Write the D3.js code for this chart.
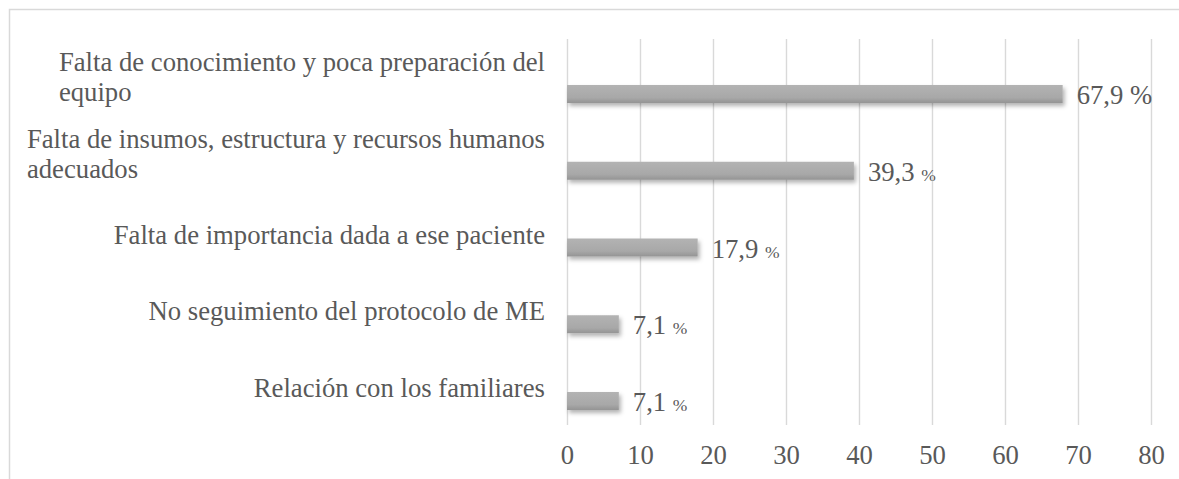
<!DOCTYPE html>
<html>
<head>
<meta charset="utf-8">
<script src="https://cdn.jsdelivr.net/npm/d3@7"></script>
<style>
  html, body { margin: 0; padding: 0; background: #ffffff; }
  svg { display: block; }
</style>
</head>
<body>
<svg id="chart" width="1179" height="479"></svg>
<script>
// ---- data ----
const categories = [
  ["Falta de conocimiento y poca preparación del", "equipo"],
  ["Falta de insumos, estructura y recursos humanos", "adecuados"],
  ["Falta de importancia dada a ese paciente"],
  ["No seguimiento del protocolo de ME"],
  ["Relación con los familiares"]
];
const values = [67.9, 39.3, 17.9, 7.1, 7.1];
const valueLabels = ["67,9", "39,3", "17,9", "7,1", "7,1"];
const tickValues = [0, 10, 20, 30, 40, 50, 60, 70, 80];

// ---- layout ----
const W = 1179, H = 479;
const plotLeft = 567, plotRight = 1151;
const gridTop = 39, gridBottom = 425;
const textColor = "#595959";
const fontFam = "'Liberation Serif', 'Times New Roman', serif";
const fs = 26.7;

const svg = d3.select("#chart");

const x = d3.scaleLinear().domain([0, 80]).range([plotLeft, plotRight]);
const keys = categories.map((c, i) => i);
const y = d3.scalePoint().domain(keys).range([94, 401]);
const barH = 18;

// defs
const defs = svg.append("defs");
const grad = defs.append("linearGradient").attr("id", "barGrad")
  .attr("x1", 0).attr("y1", 0).attr("x2", 0).attr("y2", 1);
grad.append("stop").attr("offset", "0%").attr("stop-color", "#b3b3b3");
grad.append("stop").attr("offset", "70%").attr("stop-color", "#a8a8a8");
grad.append("stop").attr("offset", "100%").attr("stop-color", "#949494");
const filt = defs.append("filter").attr("id", "shadow")
  .attr("x", "-10%").attr("y", "-50%").attr("width", "130%").attr("height", "250%");
filt.append("feDropShadow").attr("dx", 2).attr("dy", 3).attr("stdDeviation", 2)
  .attr("flood-color", "#000").attr("flood-opacity", 0.3);

// chart border (top & left visible)
svg.append("path")
  .attr("d", `M9.5,${H + 5} L9.5,9.5 L${W + 5},9.5`)
  .attr("fill", "none").attr("stroke", "#d9d9d9").attr("stroke-width", 1.5);

// gridlines via axis
const grid = svg.append("g")
  .attr("transform", `translate(0,${gridBottom})`)
  .call(d3.axisBottom(x).tickValues(tickValues).tickSize(-(gridBottom - gridTop)).tickFormat(""));
grid.select(".domain").remove();
grid.selectAll("line").attr("stroke", "#d9d9d9").attr("stroke-width", 1.4);

// tick labels
const ax = svg.append("g")
  .attr("transform", `translate(0,${gridBottom})`)
  .call(d3.axisBottom(x).tickValues(tickValues).tickSize(0).tickFormat(d3.format("d")));
ax.select(".domain").remove();
ax.selectAll("text")
  .attr("y", 39).attr("dy", 0)
  .attr("fill", textColor)
  .style("font-family", fontFam)
  .style("font-size", fs + "px");

// bars
svg.append("g").selectAll("rect")
  .data(values)
  .join("rect")
  .attr("x", x(0))
  .attr("y", (d, i) => y(i) - barH / 2)
  .attr("width", d => x(d) - x(0))
  .attr("height", barH)
  .attr("fill", "url(#barGrad)")
  .attr("filter", "url(#shadow)");

// value labels
const vl = svg.append("g").selectAll("text")
  .data(values)
  .join("text")
  .attr("x", d => x(d) + 14)
  .attr("y", (d, i) => y(i) + 10)
  .attr("fill", textColor)
  .style("font-family", fontFam)
  .style("font-size", fs + "px");
vl.append("tspan").text((d, i) => valueLabels[i] + " ");
vl.append("tspan")
  .style("font-size", (d, i) => (i === 0 ? fs : 17.5) + "px")
  .text("%");

// category labels: block right-aligned, lines left-aligned
const labelRight = 545;
const lineGap = 30;
const cg = svg.append("g");
categories.forEach((lines, i) => {
  const t = cg.append("text")
    .attr("fill", textColor)
    .style("font-family", fontFam)
    .style("font-size", fs + "px");
  const n = lines.length;
  const cy = y(i) - (n > 1 ? 17 : 13);
  const tspans = lines.map((ln, j) =>
    t.append("tspan")
      .attr("y", cy + (j - (n - 1) / 2) * lineGap + 9)
      .text(ln));
  const maxW = d3.max(tspans, s => s.node().getComputedTextLength());
  tspans.forEach(s => s.attr("x", labelRight - maxW));
});
</script>
</body>
</html>
